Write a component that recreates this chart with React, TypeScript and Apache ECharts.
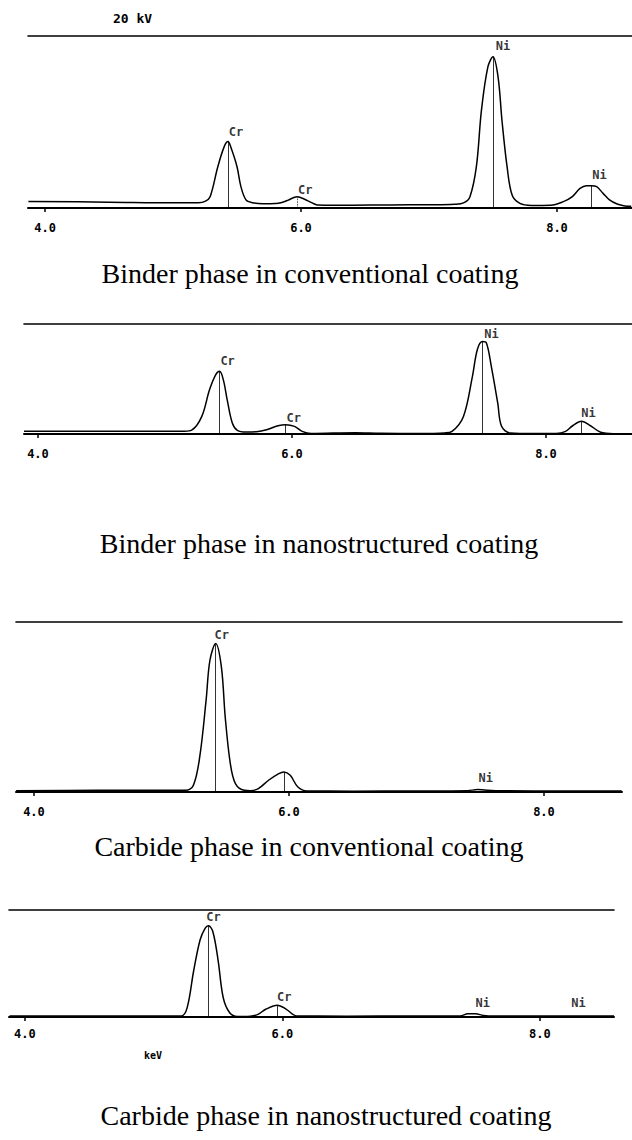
import React, { useEffect, useRef } from 'react';
import * as echarts from 'echarts';

// ---------- data (energy in keV, relative counts 0..100 per panel) ----------
const binderConvKeV = [3.87, 4.5, 5.0, 5.2, 5.25, 5.29, 5.35, 5.40, 5.43, 5.45, 5.50, 5.53, 5.57, 5.62, 5.70, 5.80, 5.85, 5.90, 5.94, 5.97, 6.00, 6.05, 6.10, 6.13, 6.40, 6.70, 7.00, 7.20, 7.27, 7.32, 7.37, 7.41, 7.46, 7.50, 7.54, 7.57, 7.61, 7.65, 7.71, 7.80, 7.95, 8.05, 8.12, 8.18, 8.23, 8.27, 8.31, 8.36, 8.41, 8.47, 8.53, 8.58];
const binderConvCounts = [3.8, 3.4, 3.0, 3.0, 3.8, 6.6, 24, 35.7, 38.6, 35.7, 24, 12.6, 4.7, 3.1, 2.5, 2.6, 3.2, 4.6, 6.0, 6.6, 6.0, 4.3, 2.5, 1.8, 1.6, 1.8, 1.9, 2.2, 3.0, 6.6, 24, 57, 82, 88, 76, 51, 24, 7.4, 2.7, 1.5, 1.6, 3.7, 6.6, 11.4, 13, 13, 12.4, 8.5, 4.7, 2.3, 1.2, 1.0];

const binderNanoKeV = [3.89, 4.5, 5.0, 5.15, 5.21, 5.29, 5.35, 5.40, 5.43, 5.46, 5.49, 5.53, 5.57, 5.64, 5.72, 5.80, 5.89, 5.95, 6.02, 6.08, 6.15, 6.50, 6.70, 7.00, 7.20, 7.26, 7.35, 7.42, 7.46, 7.50, 7.53, 7.57, 7.62, 7.65, 7.72, 7.90, 8.08, 8.15, 8.21, 8.28, 8.35, 8.43, 8.53, 8.68];
const binderNanoCounts = [2.4, 2.4, 2.4, 2.5, 3.5, 16, 40, 54, 57, 49, 31, 10, 3.3, 1.8, 2.1, 3.9, 7.5, 8.5, 6.9, 2.4, 0.4, 1.2, 0.6, 0.5, 1.0, 2.4, 16, 52, 77, 84, 83, 61, 28, 7, 0.9, 0.4, 0.5, 2.1, 7.5, 11.5, 7.5, 1.6, 0.3, 0.3];

const carbideConvKeV = [3.86, 4.5, 5.0, 5.19, 5.25, 5.30, 5.35, 5.38, 5.425, 5.47, 5.50, 5.54, 5.58, 5.65, 5.70, 5.76, 5.84, 5.92, 5.96, 6.01, 6.07, 6.14, 6.50, 7.00, 7.40, 7.48, 7.62, 8.00, 8.61];
const carbideConvCounts = [0.8, 1.0, 1.0, 1.0, 3.9, 20.6, 54, 77.5, 87.3, 73.5, 44, 16.7, 4.9, 1.0, 0.8, 2.0, 6.9, 10.8, 11.8, 9.8, 2.9, 0.6, 0.5, 0.6, 0.8, 1.4, 0.8, 0.6, 0.6];

const carbideNanoKeV = [3.88, 4.5, 5.0, 5.215, 5.26, 5.31, 5.36, 5.40, 5.425, 5.46, 5.50, 5.54, 5.59, 5.65, 5.75, 5.81, 5.87, 5.96, 6.03, 6.11, 6.50, 7.00, 7.38, 7.44, 7.50, 7.56, 7.65, 8.00, 8.575];
const carbideNanoCounts = [1.0, 1.0, 1.0, 1.0, 8.8, 43, 72, 83, 85.2, 79.5, 53, 18, 4, 0.5, 0.8, 2.5, 7.2, 11, 7.2, 1, 0.8, 1.0, 1.0, 3, 3, 1.5, 1.0, 1.0, 1.0];

// peak identification labels
const binderConvPeakNames = ['Cr', 'Cr', 'Ni', 'Ni'];
const binderConvPeakKeV = [5.43, 5.97, 7.50, 8.27];
const binderConvPeakTop = [38.6, 6.6, 88, 13];

const binderNanoPeakNames = ['Cr', 'Cr', 'Ni', 'Ni'];
const binderNanoPeakKeV = [5.43, 5.95, 7.50, 8.28];
const binderNanoPeakTop = [57, 8.5, 84, 11.5];

const carbideConvPeakNames = ['Cr', 'Ni'];
const carbideConvPeakKeV = [5.425, 7.48];
const carbideConvPeakTop = [87.3, 1.4];

const carbideNanoPeakNames = ['Cr', 'Cr', 'Ni', 'Ni'];
const carbideNanoPeakKeV = [5.425, 5.96, 7.47, 8.26];
const carbideNanoPeakTop = [85.2, 11, 3, 1];

// KLM marker lines (energy)
const binderConvMarkerKeV = [5.43, 5.97, 7.50, 8.27];
const binderNanoMarkerKeV = [5.43, 5.95, 7.50, 8.28];
const carbideConvMarkerKeV = [5.425, 5.96];
const carbideNanoMarkerKeV = [5.425, 5.96];

const tickValues = [4, 6, 8];
const captions = [
  'Binder phase in conventional coating',
  'Binder phase in nanostructured coating',
  'Carbide phase in conventional coating',
  'Carbide phase in nanostructured coating',
];
const voltageLabel = '20 kV';
const unitLabel = 'keV';

// ---------- layout (pixel positions) ----------
const panels = [
  {
    keV: binderConvKeV, counts: binderConvCounts,
    names: binderConvPeakNames, pk: binderConvPeakKeV, ph: binderConvPeakTop,
    markers: binderConvMarkerKeV, dotted: [false, true, false, false],
    top: 36, height: 172, left: 28, width: 604, min: 3.867, max: 8.586, labelMargin: 14,
    offsets: [[8, -10], [8, -7], [10, -11], [8, -11]],
    caption: { x: 310, y: 273.5 },
  },
  {
    keV: binderNanoKeV, counts: binderNanoCounts,
    names: binderNanoPeakNames, pk: binderNanoPeakKeV, ph: binderNanoPeakTop,
    markers: binderNanoMarkerKeV, dotted: [false, false, false, false],
    top: 324, height: 110, left: 24, width: 608, min: 3.89, max: 8.677, labelMargin: 14,
    offsets: [[8, -10], [8, -7], [9, -8], [7, -8]],
    caption: { x: 319, y: 543 },
  },
  {
    keV: carbideConvKeV, counts: carbideConvCounts,
    names: carbideConvPeakNames, pk: carbideConvPeakKeV, ph: carbideConvPeakTop,
    markers: carbideConvMarkerKeV, dotted: [false, false],
    top: 622, height: 170, left: 16, width: 606, min: 3.859, max: 8.612, labelMargin: 14,
    offsets: [[6, -9], [8, -12]],
    caption: { x: 309, y: 846.5 },
  },
  {
    keV: carbideNanoKeV, counts: carbideNanoCounts,
    names: carbideNanoPeakNames, pk: carbideNanoPeakKeV, ph: carbideNanoPeakTop,
    markers: carbideNanoMarkerKeV, dotted: [false, false],
    top: 910, height: 107, left: 9, width: 605, min: 3.876, max: 8.575, labelMargin: 11,
    offsets: [[5, -9], [7, -8], [11, -11], [5, -13]],
    caption: { x: 326, y: 1115 },
  },
];

const MONO = '"DejaVu Sans Mono", "Liberation Mono", monospace';
const SERIF = '"Liberation Serif", "Times New Roman", serif';

function heightAt(keV: number[], counts: number[], k: number): number {
  // sampled value closest to the marker energy
  let best = 0;
  for (let i = 1; i < keV.length; i++) {
    if (Math.abs(keV[i] - k) < Math.abs(keV[best] - k)) best = i;
  }
  return counts[best];
}

function buildOption() {
  const grid: any[] = [];
  const xAxis: any[] = [];
  const yAxis: any[] = [];
  const series: any[] = [];
  const graphic: any[] = [];

  panels.forEach((p, i) => {
    grid.push({ left: p.left, top: p.top, width: p.width, height: p.height, containLabel: false });
    xAxis.push({
      type: 'value', gridIndex: i, min: p.min, max: p.max, position: 'bottom',
      axisLine: { show: true, onZero: false, lineStyle: { color: '#000', width: 2 } },
      axisTick: { show: true, inside: false, length: 4, customValues: tickValues, lineStyle: { color: '#000', width: 1.5 } },
      axisLabel: {
        show: true, customValues: tickValues, margin: p.labelMargin,
        formatter: (v: number) => v.toFixed(1),
        fontFamily: MONO, fontWeight: 'bold', fontSize: 12, color: '#000',
      },
      splitLine: { show: false },
    });
    xAxis.push({
      type: 'value', gridIndex: i, min: p.min, max: p.max, position: 'top',
      axisLine: { show: true, onZero: false, lineStyle: { color: '#000', width: 1.6 } },
      axisTick: { show: false }, axisLabel: { show: false }, splitLine: { show: false },
    });
    yAxis.push({ type: 'value', gridIndex: i, min: 0, max: 100, show: false, splitLine: { show: false } });

    series.push({
      type: 'line', xAxisIndex: 2 * i, yAxisIndex: i,
      data: p.keV.map((k, j) => [k, p.counts[j]]),
      showSymbol: false, smooth: 0.35,
      lineStyle: { color: '#000', width: 1.5 },
      markLine: {
        silent: true, symbol: ['none', 'none'], animation: false,
        label: { show: false },
        lineStyle: { color: '#000', width: 0.8, type: 'solid' },
        data: p.markers.map((k, j) => [
          { coord: [k, 0], lineStyle: { color: '#000', width: 0.8, type: p.dotted[j] ? 'dotted' : 'solid' } },
          { coord: [k, heightAt(p.keV, p.counts, k)] },
        ]),
      },
    });

    series.push({
      type: 'scatter', xAxisIndex: 2 * i, yAxisIndex: i,
      symbolSize: 1, itemStyle: { color: 'rgba(0,0,0,0)' }, silent: true,
      data: p.names.map((n, j) => ({
        name: n, value: [p.pk[j], p.ph[j]],
        label: { offset: p.offsets[j] },
      })),
      label: {
        show: true, position: 'inside', formatter: '{b}',
        fontFamily: MONO, fontWeight: 'bold', fontSize: 12, color: '#000',
      },
    });

    graphic.push({
      type: 'text', x: p.caption.x, y: p.caption.y,
      style: { text: captions[i], font: `28px ${SERIF}`, fill: '#000', textAlign: 'center', textVerticalAlign: 'middle' },
    });
  });

  graphic.push({
    type: 'text', x: 113, y: 18,
    style: { text: voltageLabel, font: `bold 13px ${MONO}`, fill: '#000', textAlign: 'left', textVerticalAlign: 'middle' },
  });
  graphic.push({
    type: 'text', x: 153, y: 1055,
    style: { text: unitLabel, font: `bold 10px ${MONO}`, fill: '#000', textAlign: 'center', textVerticalAlign: 'middle' },
  });

  return {
    animation: false,
    backgroundColor: '#fff',
    grid, xAxis, yAxis, series, graphic,
  };
}

export default function App() {
  const ref = useRef<HTMLDivElement>(null);
  useEffect(() => {
    if (!ref.current) return;
    const chart = echarts.init(ref.current, undefined, { renderer: 'svg' });
    chart.setOption(buildOption());
    return () => chart.dispose();
  }, []);
  return <div ref={ref} style={{ position: 'absolute', left: 0, top: 0, width: 632, height: 1140 }} />;
}
